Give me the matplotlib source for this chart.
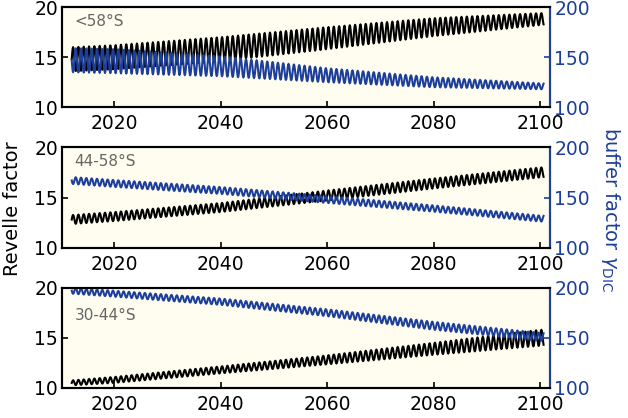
import matplotlib.pyplot as plt
import numpy as np

# readings taken off the chart at anchor years (annual mean and half seasonal range)
anchor_years = [2012, 2020, 2040, 2060, 2080, 2100]

regions = ['<58°S', '44-58°S', '30-44°S']
label_y = [0.93, 0.93, 0.8]

revelle_mean = [
    [14.8, 15.0, 15.8, 16.9, 18.0, 18.8],
    [12.8, 13.1, 14.0, 15.2, 16.4, 17.5],
    [10.5, 10.8, 11.8, 12.8, 13.9, 15.0],
]
revelle_amp = [
    [1.2, 1.2, 1.2, 1.1, 0.9, 0.6],
    [0.45, 0.45, 0.45, 0.5, 0.5, 0.5],
    [0.25, 0.3, 0.35, 0.45, 0.6, 0.8],
]
buffer_mean = [
    [147, 146, 141, 132, 125, 121],
    [167, 164, 157, 148, 139, 129],
    [197, 194, 186, 175, 162, 151],
]
buffer_amp = [
    [12, 12, 10, 7, 5, 3],
    [3.5, 3.5, 3.5, 3.5, 3.2, 3.0],
    [3, 3, 3.2, 3.5, 4, 4],
]

blue = '#1d3f9a'
t = np.arange(2012.0, 2100.75, 1 / 12)
season = np.sin(2 * np.pi * t)

fig, axes = plt.subplots(3, 1, figsize=(6.28, 4.18), dpi=100)
fig.subplots_adjust(left=0.099, right=0.876, top=0.983, bottom=0.072, hspace=0.4)

for i, ax in enumerate(axes):
    rf = np.interp(t, anchor_years, revelle_mean[i]) + np.interp(t, anchor_years, revelle_amp[i]) * season
    bf = np.interp(t, anchor_years, buffer_mean[i]) - np.interp(t, anchor_years, buffer_amp[i]) * season

    ax.set_facecolor('#fefdf0')
    ax.plot(t, rf, color='black', lw=1.5)
    ax.set_xlim(2010.2, 2101.9)
    ax.set_ylim(10, 20)
    ax.set_yticks([10, 15, 20])
    ax.set_xticks([2020, 2040, 2060, 2080, 2100])
    ax.tick_params(direction='in', labelsize=13.5, length=4, width=1.2, top=False, right=False)
    ax.tick_params(axis='x', pad=5)
    ax.tick_params(axis='y', pad=3)
    for s in ax.spines.values():
        s.set_linewidth(1.5)
    ax.text(0.025, label_y[i], regions[i], transform=ax.transAxes, color='#666666',
            fontsize=11, va='top', ha='left')

    ax2 = ax.twinx()
    ax2.plot(t, bf, color=blue, lw=1.5)
    ax2.set_ylim(100, 200)
    ax2.set_yticks([100, 150, 200])
    ax2.tick_params(direction='in', labelsize=13.5, length=4, width=1.2, colors=blue, pad=3)
    ax2.spines['right'].set_color(blue)
    for s in ax2.spines.values():
        s.set_linewidth(1.5)

fig.text(0.02, 0.5, 'Revelle factor', rotation=90, va='center', ha='center', fontsize=14)
fig.text(0.972, 0.5, r'buffer factor $\gamma_{\mathrm{DIC}}$', rotation=270, va='center',
         ha='center', fontsize=14, color=blue)

fig.savefig('out.png', dpi=100)
